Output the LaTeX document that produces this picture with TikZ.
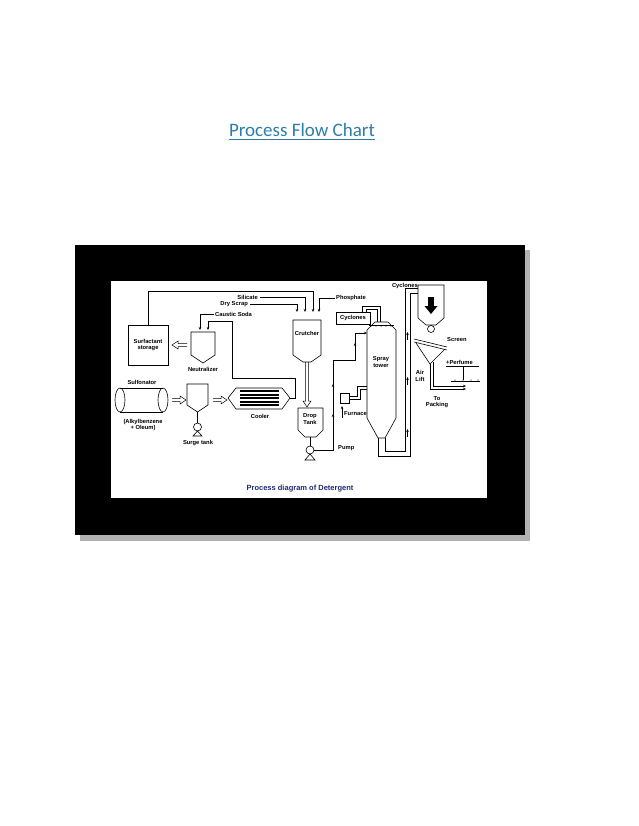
\documentclass[tikz,border=0pt]{standalone}
\usepackage{fontspec}
\setmainfont{Liberation Sans}
\newfontfamily\titlefont{Carlito}
\usetikzlibrary{arrows.meta}
\definecolor{ttl}{HTML}{2E7DA8}
\definecolor{cap}{HTML}{1F2A70}
\begin{document}
\begin{tikzpicture}[x=1pt,y=-1pt,
  lbl/.style={font=\bfseries\fontsize{5.8}{6.3}\selectfont,inner sep=0pt},
  eq/.style={draw,line width=0.6pt},
  ln/.style={draw,line width=0.5pt},
  ar/.style={ln,-{Stealth[length=3pt,width=2.5pt]}},
  hol/.style={draw,line width=0.5pt,line join=miter}]
\useasboundingbox (0,0) rectangle (638,826);
\node (title) at (302,130) {\titlefont\fontsize{19}{22}\selectfont\color{ttl}Process Flow Chart};
\draw[ttl,line width=0.7pt] (title.south west)++(3,-1) -- ([xshift=-3pt,yshift=1pt]title.south east);
% frame
\fill[gray!60] (80,250) rectangle (530,541);
\fill[black] (75,245) rectangle (525,535);
\fill[white] (111,281) rectangle (487,498);
% surfactant storage
\node[eq,minimum width=40,minimum height=40,lbl,align=center] (stor) at (148,345) {Surfactant\\storage};
% neutralizer
\draw[eq] (191,332) -- (191,355) -- (203,363) -- (215,355) -- (215,332) -- cycle;
\node[lbl] (neul) at (203,369) {Neutralizer};
\draw[hol] (187,343.5) -- (178,343.5) -- (178,341) -- (172,345) -- (178,349) -- (178,346.5) -- (187,346.5);
% top loop
\draw[ar] (stor.north) -- (148,291) -- (313,291) -- (313,312);
\node[lbl,anchor=east] (sil) at (258,297) {Silicate};
\draw[ar] (sil.east)++(2,0) -- (305,297) -- (305,312);
\node[lbl,anchor=east] (dry) at (248,304) {Dry Scrap};
\draw[ar] (dry.east)++(2,0) -- (297,304) -- (297,312);
\node[lbl,anchor=west] (cau) at (215,314) {Caustic Soda};
\draw[ar] (cau.west)++(-1,0) -- (200,314) -- (200,330);
% sulfonator
\node[lbl] (sulf) at (142,382) {Sulfonator};
\draw[eq] (120,388) -- (163,388) (120,412) -- (163,412);
\draw[eq] (120,400) ellipse (5 and 12);
\draw[eq] (163,400) ellipse (5 and 12);
\node[lbl,align=center] (alk) at (143,425) {(Alkylbenzene\\+ Oleum)};
\draw[hol] (172,398.5) -- (180,398.5) -- (180,396) -- (186,400) -- (180,404) -- (180,401.5) -- (172,401.5);
% surge tank
\draw[eq] (187,384) -- (187,405) -- (197.5,412) -- (208,405) -- (208,384) -- cycle;
\draw[eq] (197.5,412) -- (197.5,423);
\draw[eq] (197.5,427) circle (4);
\draw[eq] (197.5,431) -- (193,436) -- (202,436) -- cycle;
\node[lbl] (surge) at (198,443) {Surge tank};
\draw[hol] (213,398.5) -- (221,398.5) -- (221,396) -- (227,400) -- (221,404) -- (221,401.5) -- (213,401.5);
% cooler
\draw[eq] (228,398) -- (236,388) -- (282,388) -- (290,398) -- (282,409) -- (236,409) -- cycle;
\foreach \y in {391,394.5,398,401.5,405} \fill (240,\y-1) rectangle (279,\y+1);
\node[lbl] (cool) at (260,416) {Cooler};
\draw[ar] (290,398) -- (295,398) -- (295,378) -- (232,378) -- (232,321) -- (208,321) -- (208,330);
% crutcher
\draw[eq] (293,320) -- (293,355) -- (303,362) -- (311,362) -- (321,355) -- (321,320) -- cycle;
\node[lbl] (crut) at (307,333) {Crutcher};
\node[lbl,anchor=west] (phos) at (336,298) {Phosphate};
\draw[ar] (phos.west)++(-1,0) -- (319,298) -- (319,312);
\draw[hol] (305.5,362) -- (305.5,401) -- (303,401) -- (307,407) -- (311,401) -- (308.5,401) -- (308.5,362);
% drop tank
\draw[eq] (298,408) -- (298,430) -- (305,437) -- (316,437) -- (323,430) -- (323,408) -- cycle;
\node[lbl,align=center] (drop) at (310,419) {Drop\\Tank};
\draw[eq] (310,437) -- (310,446);
\draw[eq] (310,450) circle (4);
\draw[eq] (310,454) -- (305,460) -- (315,460) -- cycle;
\node[lbl,anchor=west] (pump) at (338,448) {Pump};
\draw[ar] (314,450) -- (333,450) -- (333,360) -- (355,360) -- (355,333) -- (367,333);
\draw[ar] (333,420) -- (333,414);
\draw[ar] (333,390) -- (333,384);
\draw[ar] (355,348) -- (355,343);
% spray tower
\draw[eq] (367,418) -- (367,330) -- (375,322) -- (388,322) -- (396,330) -- (396,418) -- (385,438) -- (378,438) -- cycle;
\draw[eq] (378,438) -- (378,442) (385,438) -- (385,442);
\foreach \x in {371,376,381,386,391} \node[font=\fontsize{3}{3}\selectfont,inner sep=0pt] at (\x,327) {x};
\draw[ln] (369,325) -- (394,325);
\node[lbl,align=center] (spray) at (381,362) {Spray\\tower};
% cyclones left
\node[eq,lbl,minimum width=34,minimum height=12] (cyc1) at (353,318) {Cyclones};
\draw[eq] (362,312) -- (362,306) -- (380,306) -- (380,322);
\draw[eq] (366,312) -- (366,309) -- (377,309) -- (377,322);
% furnace
\draw[eq] (340,393) rectangle (349,403);
\draw[eq] (349,396) -- (357,396) -- (357,386) -- (367,386);
\draw[eq] (349,399) -- (360,399) -- (360,389) -- (367,389);
\node[lbl,anchor=west] (furn) at (344,414) {Furnace};
\draw[ar] (342,418) -- (342,406);
% air lift duct
\draw[eq] (378,442) -- (378,456) -- (410,456) -- (410,293) -- (418,293);
\draw[eq] (385,442) -- (385,451) -- (405,451) -- (405,288) -- (418,288);
\foreach \y in {340,385,437} \draw[ar] (407.5,\y) -- (407.5,\y-8);
\node[lbl,anchor=east] (cyc2) at (418,286) {Cyclones};
% hopper
\draw[eq] (418,285) -- (418,318) -- (426,325) -- (436,325) -- (444,318) -- (444,285) -- cycle;
\fill (428,297) rectangle (434,306);
\fill (424.5,306) -- (437.5,306) -- (431,314) -- cycle;
\draw[eq] (431,329) circle (3.5);
% screen and funnel
\draw[eq] (414,339) -- (447,347) (414,342) -- (447,350);
\draw[eq] (416,343) -- (430,364) -- (445,349);
\draw[eq] (430,364) -- (430,389) (433,362) -- (433,386);
\node[lbl,anchor=west] (scr) at (447,340) {Screen};
\node[lbl,anchor=west] (perf) at (446,362) {+Perfume};
\draw[ln] (446,366) -- (479,366) (463,366) -- (463,380);
\draw[ln] (451,381) -- (480,381);
\foreach \x in {455,463,471,478} \node[font=\fontsize{3}{3}\selectfont,inner sep=0pt] at (\x,381) {x};
\node[lbl,align=center] (air) at (420,376) {Air\\Lift};
\draw[ar] (430,389) -- (466,389);
\draw[ar] (433,386) -- (466,386);
\node[lbl,align=center] (pack) at (437,402) {To\\Packing};
% caption
\node[font=\bfseries\fontsize{7.5}{8}\selectfont,text=cap] (capt) at (300,489) {Process diagram of Detergent};
\end{tikzpicture}
\end{document}
